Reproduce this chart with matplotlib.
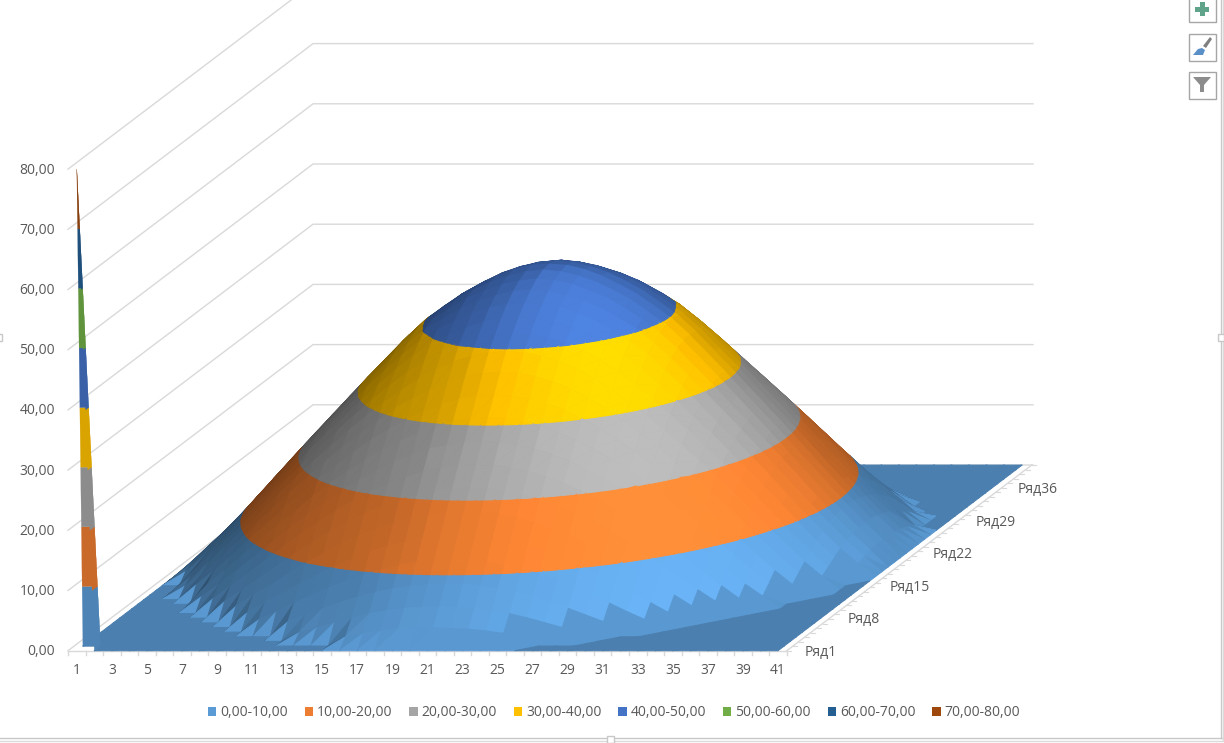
import numpy as np
import matplotlib
matplotlib.use("Agg")
import matplotlib.pyplot as plt
from matplotlib.collections import PolyCollection
from matplotlib.patches import Patch, Rectangle, Polygon

plt.rcParams["font.family"] = ["Open Sans", "DejaVu Sans"]

band_names = ["0,00-10,00", "10,00-20,00", "20,00-30,00", "30,00-40,00",
              "40,00-50,00", "50,00-60,00", "60,00-70,00", "70,00-80,00"]
band_colors = ["#5B9BD5", "#ED7D31", "#A5A5A5", "#FFC000",
               "#4472C4", "#70AD47", "#255E91", "#9E480E"]
z_ticks = ["0,00", "10,00", "20,00", "30,00", "40,00", "50,00", "60,00", "70,00", "80,00"]
row_labels = {0: "Ряд1", 7: "Ряд8", 14: "Ряд15", 21: "Ряд22", 28: "Ряд29", 35: "Ряд36"}

dome_rows = [
    [48.8, 48.6, 47.9, 46.8, 45.4, 43.8, 41.8, 39.7, 37.0, 34.0, 31.0, 27.8, 24.7, 21.6, 18.4, 15.2, 12.0, 8.8, 5.8, 3.0, 0.0],
    [48.3, 47.6, 46.6, 45.2, 43.6, 41.6, 39.5, 36.8, 33.8, 30.8, 27.7, 24.6, 21.5, 18.3, 15.1, 11.9, 8.7, 5.7, 2.9, 0.0],
    [47.0, 45.9, 44.7, 43.0, 41.1, 38.9, 36.3, 33.3, 30.4, 27.2, 24.2, 21.1, 18.0, 14.8, 11.6, 8.4, 5.5, 2.8, 0.0],
    [45.0, 43.8, 42.1, 40.4, 38.0, 35.4, 32.5, 29.6, 26.6, 23.6, 20.5, 17.4, 14.2, 11.1, 8.0, 5.1, 2.5, 0.0],
    [42.5, 40.9, 39.1, 36.8, 34.2, 31.5, 28.5, 25.6, 22.7, 19.7, 16.6, 13.5, 10.4, 7.4, 4.6, 2.1, 0.0],
    [39.5, 37.5, 35.2, 32.7, 30.0, 27.2, 24.5, 21.6, 18.6, 15.6, 12.6, 9.6, 6.6, 3.9, 1.6, 0.0],
    [35.5, 33.3, 31.0, 28.4, 25.8, 23.0, 20.3, 17.4, 14.5, 11.5, 8.5, 5.7, 3.1, 0.0, 0.0],
    [31.3, 29.0, 26.6, 24.1, 21.5, 18.8, 16.0, 13.1, 10.2, 7.4, 4.7, 2.3, 0.0, 0.0],
    [26.8, 24.6, 22.2, 19.7, 17.1, 14.4, 11.6, 8.8, 6.1, 3.6, 1.5, 0.0, 0.0],
    [22.4, 20.2, 17.7, 15.2, 12.6, 10.0, 7.3, 4.8, 2.5, 0.0, 0.0, 0.0],
    [18.0, 15.6, 13.2, 10.7, 8.2, 5.7, 3.4, 0.0, 0.0, 0.0, 0.0],
    [13.4, 11.1, 8.7, 6.4, 4.1, 2.1, 0.0, 0.0, 0.0, 0.0],
    [8.9, 6.7, 4.6, 2.5, 0.0, 0.0, 0.0, 0.0, 0.0],
    [4.7, 2.8, 0.0, 0.0, 0.0, 0.0, 0.0, 0.0],
    [0.0, 0.0, 0.0, 0.0, 0.0, 0.0, 0.0],
]
spike_value = 80.0  # the one odd point, Ряд1 / column 1

# filling the 41x41 surface
N = 41
quad = np.zeros((21, 21))
for i, row in enumerate(dome_rows):
    quad[i, i:] = row
    quad[i:, i] = row
Z = np.zeros((N, N))
for r in range(N):
    for c in range(N):
        Z[r, c] = quad[abs(r - 20), abs(c - 20)]
Z[0, 0] = spike_value

# oblique view of the chart, in screen pixels
X0, Y0 = 76.8, 650.7
DX, DRX, DRY, DZ = 17.53, 6.1, 4.64, 6.02
LIGHT = np.array([0.42, -0.48, 0.77])


def project(c, r, z):
    return (X0 + DX * c + DRX * r, Y0 - DRY * r - DZ * z)


def shade(v1, v2):
    v1 = np.array(v1, dtype=float) * [1, 1, 0.34]
    v2 = np.array(v2, dtype=float) * [1, 1, 0.34]
    n = np.cross(v1, v2)
    n = n / np.linalg.norm(n)
    if n[2] < 0:
        n = -n
    return np.interp(n @ LIGHT, [-0.5, 0.29, 0.77, 1.0], [0.35, 0.5, 0.82, 1.16])


def clip_band(tri, lo, hi):
    # cut one triangle to the part between two levels
    pts = list(tri)
    for level, keep_above in ((lo, True), (hi, False)):
        out = []
        for k in range(len(pts)):
            a, b = pts[k], pts[(k + 1) % len(pts)]
            ina = a[2] >= level if keep_above else a[2] <= level
            inb = b[2] >= level if keep_above else b[2] <= level
            if ina:
                out.append(a)
            if ina != inb:
                t = (level - a[2]) / (b[2] - a[2])
                out.append((a[0] + t * (b[0] - a[0]), a[1] + t * (b[1] - a[1]), level))
        pts = out
        if not pts:
            return []
    return pts


rgb = [np.array(matplotlib.colors.to_rgb(c)) for c in band_colors]
polys = []
faces = []
widths = []
for r in range(N - 2, -1, -1):
    for c in range(N - 1):
        p00 = np.array((c, r, Z[r, c]))
        p10 = np.array((c + 1, r, Z[r, c + 1]))
        p11 = np.array((c + 1, r + 1, Z[r + 1, c + 1]))
        p01 = np.array((c, r + 1, Z[r + 1, c]))
        cell_min = min(p00[2], p10[2], p11[2], p01[2])
        for tri in ((p00, p11, p01), (p00, p10, p11)):
            zs = [p[2] for p in tri]
            if max(zs) > 60:
                s = 0.85
            elif cell_min > 2.0:
                # smooth cell normal on the dome
                s = shade(p11 - p00, p01 - p10)
            else:
                # facets show at the foot of the dome
                s = min(shade(tri[1] - tri[0], tri[2] - tri[0]), 0.98)
            for b in range(8):
                if max(zs) < b * 10 or min(zs) > (b + 1) * 10:
                    continue
                if max(zs) == b * 10 and b > 0:
                    continue
                piece = clip_band(tri, b * 10, (b + 1) * 10)
                if len(piece) < 3:
                    continue
                polys.append([project(*p) for p in piece])
                faces.append(np.clip(rgb[b] * s, 0, 1))
                # thicker edges close the seams, the thin spike stays thin
                widths.append(0.15 if max(zs) > 60 else 0.75)

fig = plt.figure(figsize=(12.24, 7.43), dpi=100)
ax = fig.add_axes([0, 0, 1, 1])
ax.set_xlim(0, 1224)
ax.set_ylim(743, 0)
ax.axis("off")

grid_col = "#D9D9D9"
text_col = "#595959"
fs = 10
left = X0 - DX / 2
depth_x, depth_y = 245, 185.7

# walls
for k in range(9):
    y = Y0 - DZ * k * 10
    ax.plot([left, left + depth_x, 1033], [y, y - depth_y, y - depth_y], color=grid_col, lw=1, zorder=1)
    ax.text(55, y + 1, z_ticks[k], ha="right", va="center", fontsize=fs, color=text_col)

# axes on the floor
ax.plot([left, left + DX * 41], [Y0, Y0], color=grid_col, lw=1, zorder=1)
for c in range(42):
    ax.plot([left + DX * c] * 2, [Y0, Y0 + 4], color=grid_col, lw=1, zorder=1)
for c in range(0, 41, 2):
    ax.text(X0 + DX * c, 670, str(c + 1), ha="center", va="center", fontsize=fs, color=text_col)
corner = left + DX * 41
ax.plot([corner, corner + depth_x], [Y0, Y0 - depth_y], color=grid_col, lw=1, zorder=1)
for r in range(42):
    px = corner + depth_x * r / 41
    py = Y0 - depth_y * r / 41
    ax.plot([px, px + 4], [py, py], color=grid_col, lw=0.8, zorder=1)
for r, name in row_labels.items():
    ax.text(X0 + DX * 40 + DRX * r + 26.5, Y0 - DRY * r + 1.5, name, ha="left", va="center", fontsize=fs, color=text_col)

ax.add_collection(PolyCollection(polys, facecolors=faces, edgecolors=faces, linewidths=widths, zorder=2))

handles = [Patch(facecolor=c, edgecolor="none") for c in band_colors]
ax.legend(handles, band_names, ncol=8, loc="center", bbox_to_anchor=(614 / 1224, 1 - 713 / 743),
          frameon=False, fontsize=fs, labelcolor=text_col, handlelength=0.6, handleheight=0.6,
          handletextpad=0.28, columnspacing=1.22, borderpad=0)

# excel selection frame and buttons
frame = "#C8C8C8"
ax.plot([0, 1224], [737.5, 737.5], color=frame, lw=1)
ax.plot([0, 1224], [740.5, 740.5], color="#DADADA", lw=1)
ax.plot([1220.5, 1220.5], [0, 737.5], color=frame, lw=1)
ax.plot([1223, 1223], [0, 740], color="#DADADA", lw=1)
ax.add_patch(Rectangle((606.5, 735.5), 7, 7, fc="white", ec=frame, lw=1, zorder=5))
ax.add_patch(Rectangle((1218, 333.5), 6, 7, fc="white", ec=frame, lw=1, zorder=5))
ax.add_patch(Rectangle((-3, 333.5), 5, 7, fc="white", ec=frame, lw=1, zorder=5))
for y0 in (-6, 33, 71):
    ax.add_patch(Rectangle((1188.5, y0 + 0.5), 27, 27.5, fc="white", ec="#A6A6A6", lw=1, zorder=5))
ax.add_patch(Rectangle((1195, 6.5), 14, 5, fc="#5FA38A", ec="none", zorder=6))
ax.add_patch(Rectangle((1199.5, 2), 5, 14, fc="#5FA38A", ec="none", zorder=6))
ax.add_patch(Polygon([(1210, 37), (1212, 39), (1206, 48), (1203, 46)], fc="#808080", ec="none", zorder=6))
ax.add_patch(Polygon([(1193, 55), (1198, 49), (1202, 48), (1205, 50), (1203, 55)], fc="#5B8FC8", ec="none", zorder=6))
ax.add_patch(Polygon([(1193, 77), (1211, 77), (1204, 85), (1204, 92), (1200, 92), (1200, 85)],
                     fc="#8C8C8C", ec="none", zorder=6))

fig.savefig("out.png", dpi=100)
